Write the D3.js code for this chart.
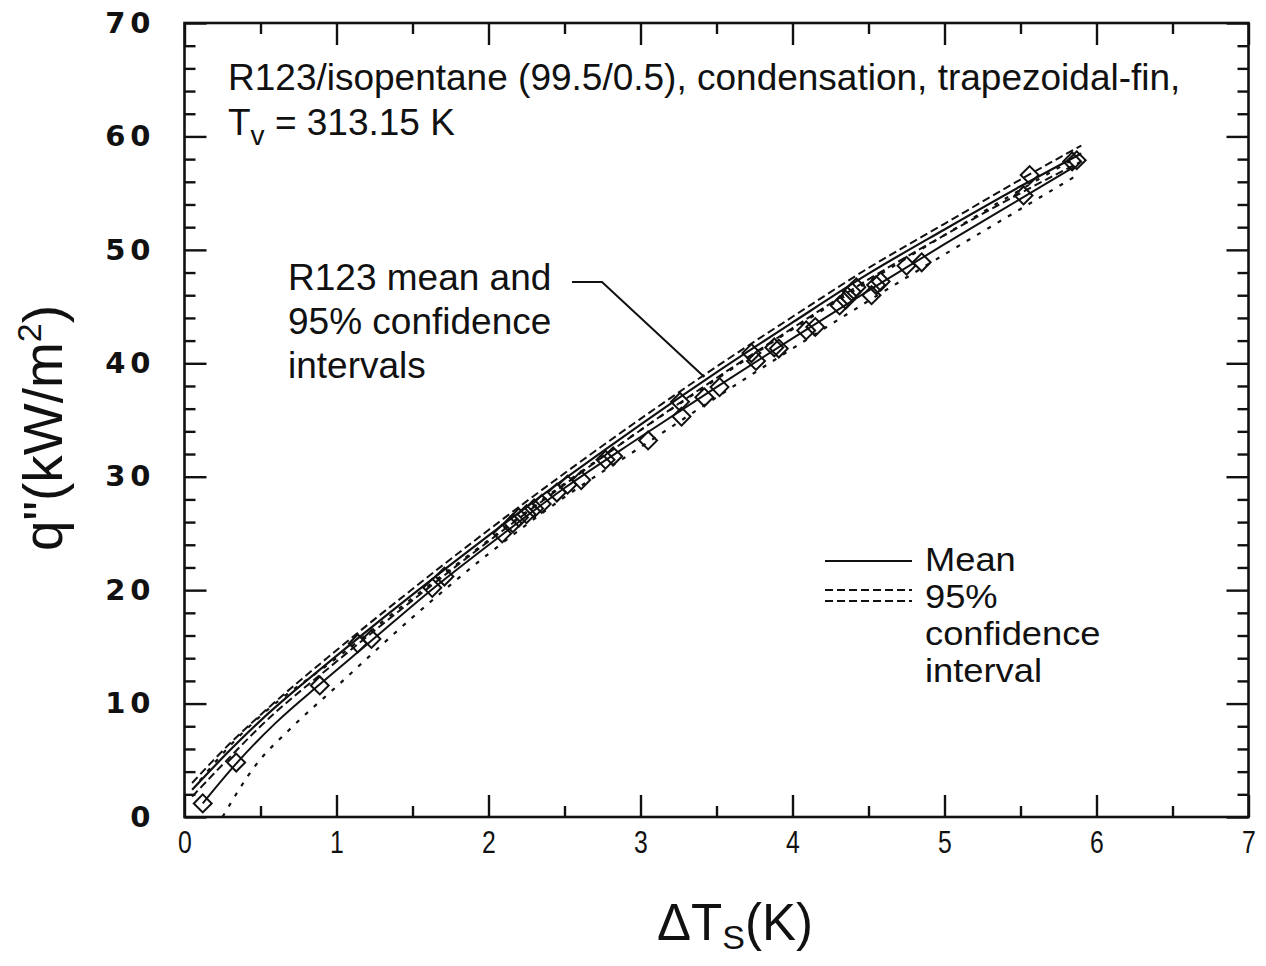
<!DOCTYPE html>
<html>
<head>
<meta charset="utf-8">
<script src="https://cdn.jsdelivr.net/npm/d3@7"></script>
<style>
	html, body { margin: 0; padding: 0; background: #fff; }
	svg { display: block; font-family: "Liberation Sans", Arial, Helvetica, sans-serif; }
</style>
</head>
<body>
<div id="chart"></div>
<script>
// axis ticks
const xTicks = [0, 1, 2, 3, 4, 5, 6, 7];
const xMinorTicks = [0.5, 1.5, 2.5, 3.5, 4.5, 5.5, 6.5];
const yTicks = [0, 10, 20, 30, 40, 50, 60, 70];
const yMinorTicks = [2, 4, 6, 8, 12, 14, 16, 18, 22, 24, 26, 28, 32, 34, 36, 38, 42, 44, 46, 48, 52, 54, 56, 58, 62, 64, 66, 68];

// R123 mean and 95% confidence band
const r123Dt    = [0.05, 0.3, 0.5, 1.0, 1.5, 2.0, 2.5, 3.0, 3.5, 4.0, 4.5, 5.0, 5.5, 5.9];
const r123Mean  = [2.4, 5.9, 8.5, 14.2, 19.6, 24.8, 29.8, 34.6, 39.2, 43.6, 47.9, 51.8, 55.6, 58.5];
const r123Upper = [3.0, 6.5, 9.0, 14.7, 20.1, 25.3, 30.3, 35.1, 39.7, 44.1, 48.4, 52.3, 56.2, 59.2];
const r123Lower = [1.8, 5.3, 8.0, 13.7, 19.1, 24.3, 29.3, 34.1, 38.7, 43.1, 47.4, 51.3, 55.0, 57.8];

// mixture fit
const mixDt   = [0.12, 0.34, 0.6, 0.89, 1.2, 1.65, 2.1, 2.5, 3.0, 3.5, 4.0, 4.5, 5.0, 5.5, 5.85];
const mixMean = [1.2, 4.7, 8.3, 11.7, 15.2, 20.3, 25.0, 29.0, 33.5, 37.9, 42.2, 46.4, 50.5, 54.5, 57.3];

// mixture 95% confidence limits
const mixLoDt = [0.25, 0.47, 0.69, 1.0, 1.5, 2.0, 2.5, 3.0, 3.5, 4.0, 4.5, 5.0, 5.5, 5.85];
const mixLo   = [0.0, 4.6, 7.7, 11.5, 17.6, 23.2, 28.2, 32.6, 37.0, 41.3, 45.5, 49.6, 53.6, 56.4];
const mixHiDt = [0.1, 0.3, 0.5, 1.0, 1.5, 2.0, 2.5, 3.0, 3.5, 4.0, 4.5, 5.0, 5.5, 5.85];
const mixHi   = [3.2, 6.3, 8.9, 14.0, 19.3, 24.4, 29.4, 34.1, 38.6, 43.0, 47.2, 51.3, 55.3, 58.0];

// measured points, R123/isopentane
const dataDt = [0.12, 0.34, 0.89, 1.14, 1.23, 1.63, 1.71, 2.09, 2.16, 2.20, 2.25, 2.30, 2.35, 2.45, 2.52, 2.61,
	2.77, 2.82, 3.05, 3.27, 3.26, 3.42, 3.52, 3.73, 3.76, 3.88, 3.91, 4.09, 4.15, 4.31, 4.35, 4.39, 4.42,
	4.52, 4.55, 4.58, 4.75, 4.85, 5.52, 5.56, 5.84, 5.87];
const dataQ = [1.2, 4.8, 11.6, 15.3, 15.7, 20.2, 21.2, 25.0, 25.9, 26.4, 26.7, 27.2, 27.6, 28.6, 29.3, 29.7,
	31.5, 31.8, 33.2, 35.3, 36.6, 37.0, 37.9, 40.9, 40.2, 41.4, 41.3, 42.9, 43.2, 45.1, 45.6, 46.3, 46.7,
	46.0, 46.9, 47.2, 48.6, 48.9, 54.8, 56.6, 57.8, 57.9];

// where the "R123 mean and ..." leader points to
const leaderTarget = [3.42, 38.8];

const zip = (xs, ys) => xs.map((v, i) => [v, ys[i]]);

class CondensationChart {

	/**
	 * @param {HTMLElement} element
	 */
	constructor(element) {
		this.element = element;
		this.width = 1266;
		this.height = 966;
		this.x = d3.scaleLinear().domain([0, 7]).range([184.5, 1248.5]);
		this.y = d3.scaleLinear().domain([0, 70]).range([817, 23]);
	}

	create() {
		this.svg = d3.select(this.element).append('svg')
			.attr('width', this.width)
			.attr('height', this.height);
		this.svg.append('rect')
			.attr('width', this.width)
			.attr('height', this.height)
			.attr('fill', '#fff');

		this._drawAxes();
		this._drawCurves();
		this._drawPoints();
		this._drawText();
		this._drawLegend();
	}

	_drawAxes() {
		const x = this.x, y = this.y;
		const g = this.svg.append('g');
		const [x0, x1] = x.range();
		const [y0, y1] = y.range();
		const fmt = d3.format('d');

		const axes = [
			[d3.axisBottom(x).tickValues(xTicks).tickSize(-22).tickPadding(14).tickFormat(fmt), `translate(0,${y0})`, 'bottom'],
			[d3.axisBottom(x).tickValues(xMinorTicks).tickSize(-11).tickFormat(''), `translate(0,${y0})`],
			[d3.axisTop(x).tickValues(xTicks).tickSize(-22).tickFormat(''), `translate(0,${y1})`],
			[d3.axisTop(x).tickValues(xMinorTicks).tickSize(-11).tickFormat(''), `translate(0,${y1})`],
			[d3.axisLeft(y).tickValues(yTicks).tickSize(-22).tickPadding(29).tickFormat(fmt), `translate(${x0},0)`, 'left'],
			[d3.axisLeft(y).tickValues(yMinorTicks).tickSize(-11).tickFormat(''), `translate(${x0},0)`],
			[d3.axisRight(y).tickValues(yTicks).tickSize(-22).tickFormat(''), `translate(${x1},0)`],
			[d3.axisRight(y).tickValues(yMinorTicks).tickSize(-11).tickFormat(''), `translate(${x1},0)`]
		];

		axes.forEach(([axis, tr, kind]) => {
			const a = g.append('g')
				.attr('transform', tr)
				.call(axis.tickSizeOuter(0));
			a.select('.domain').remove();
			a.selectAll('line').attr('stroke', '#111').attr('stroke-width', 2.4);
			if (kind === 'bottom') {
				a.selectAll('text')
					.attr('fill', '#111')
					.attr('font-size', 31)
					.attr('font-family', '"Liberation Sans Narrow", "Liberation Sans", Arial, sans-serif')
					.attr('transform', 'scale(0.8,1)');
			}
			if (kind === 'left') {
				a.selectAll('text')
					.attr('fill', '#111')
					.attr('font-size', 29)
					.attr('font-weight', 'bold')
					.attr('letter-spacing', 5)
					.attr('font-family', '"DejaVu Sans", Verdana, sans-serif');
			}
		});

		g.append('rect')
			.attr('x', x0)
			.attr('y', y1)
			.attr('width', x1 - x0)
			.attr('height', y0 - y1)
			.attr('fill', 'none')
			.attr('stroke', '#111')
			.attr('stroke-width', 2.6);
	}

	_drawCurves() {
		const line = d3.line()
			.x(d => this.x(d[0]))
			.y(d => this.y(d[1]))
			.curve(d3.curveMonotoneX);
		const g = this.svg.append('g')
			.attr('fill', 'none')
			.attr('stroke', '#111');

		const curves = [
			[zip(r123Dt, r123Mean), 2.2, null],
			[zip(r123Dt, r123Upper), 2, '8,4'],
			[zip(r123Dt, r123Lower), 2, '8,4'],
			[zip(mixDt, mixMean), 2, null],
			[zip(mixLoDt, mixLo), 2.2, '4,8'],
			[zip(mixHiDt, mixHi), 2.2, '4,8']
		];

		g.selectAll('path')
			.data(curves)
			.join('path')
			.attr('d', d => line(d[0]))
			.attr('stroke-width', d => d[1])
			.attr('stroke-dasharray', d => d[2]);
	}

	_drawPoints() {
		const symbol = d3.symbol().type(d3.symbolSquare).size(160);
		this.svg.append('g')
			.attr('fill', 'none')
			.attr('stroke', '#111')
			.attr('stroke-width', 2)
			.selectAll('path')
			.data(zip(dataDt, dataQ))
			.join('path')
			.attr('d', symbol)
			.attr('transform', d => `translate(${this.x(d[0])},${this.y(d[1])}) rotate(45)`);
	}

	_drawText() {
		const g = this.svg.append('g').attr('fill', '#111');

		g.append('text')
			.attr('x', 228)
			.attr('y', 90)
			.attr('font-size', 37)
			.text('R123/isopentane (99.5/0.5), condensation, trapezoidal-fin,');

		const tv = g.append('text')
			.attr('x', 228)
			.attr('y', 135)
			.attr('font-size', 37);
		tv.append('tspan').text('T');
		tv.append('tspan').attr('font-size', 28).attr('dy', 10).text('v');
		tv.append('tspan').attr('dy', -10).text(' = 313.15 K');

		const note = g.append('text')
			.attr('font-size', 37);
		['R123 mean and', '95% confidence', 'intervals'].forEach((s, i) => {
			note.append('tspan')
				.attr('x', 288)
				.attr('y', 290 + i * 44)
				.text(s);
		});

		// leader line
		g.append('path')
			.attr('d', d3.line()([[572, 282], [602, 282], [this.x(leaderTarget[0]), this.y(leaderTarget[1])]]))
			.attr('fill', 'none')
			.attr('stroke', '#111')
			.attr('stroke-width', 2);

		// x title
		const xt = g.append('text')
			.attr('x', 735)
			.attr('y', 940)
			.attr('text-anchor', 'middle')
			.attr('font-size', 51);
		xt.append('tspan').text('\u0394T');
		xt.append('tspan').attr('font-size', 34).attr('dy', 9).text('S');
		xt.append('tspan').attr('dy', -9).text('(K)');

		// y title
		const yt = g.append('text')
			.attr('transform', 'translate(62,428) rotate(-90)')
			.attr('text-anchor', 'middle')
			.attr('font-size', 55);
		yt.append('tspan').text('q"(kW/m');
		yt.append('tspan').attr('font-size', 34).attr('dy', -21).text('2');
		yt.append('tspan').attr('dy', 21).text(')');
	}

	_drawLegend() {
		const g = this.svg.append('g');
		g.append('line')
			.attr('x1', 825).attr('x2', 912)
			.attr('y1', 561).attr('y2', 561)
			.attr('stroke', '#111').attr('stroke-width', 2);
		[590, 601].forEach(yy => {
			g.append('line')
				.attr('x1', 825).attr('x2', 912)
				.attr('y1', yy).attr('y2', yy)
				.attr('stroke', '#111').attr('stroke-width', 2)
				.attr('stroke-dasharray', '8,4');
		});
		// tight leading as in the original; glyphs widened a little to keep the line widths
		['Mean', '95%', 'confidence', 'interval'].forEach((s, i) => {
			g.append('text')
				.attr('transform', `translate(925,${571 + i * 37}) scale(1.1,1)`)
				.attr('font-size', 33)
				.attr('fill', '#111')
				.text(s);
		});
	}
}

new CondensationChart(document.getElementById('chart')).create();
</script>
</body>
</html>
